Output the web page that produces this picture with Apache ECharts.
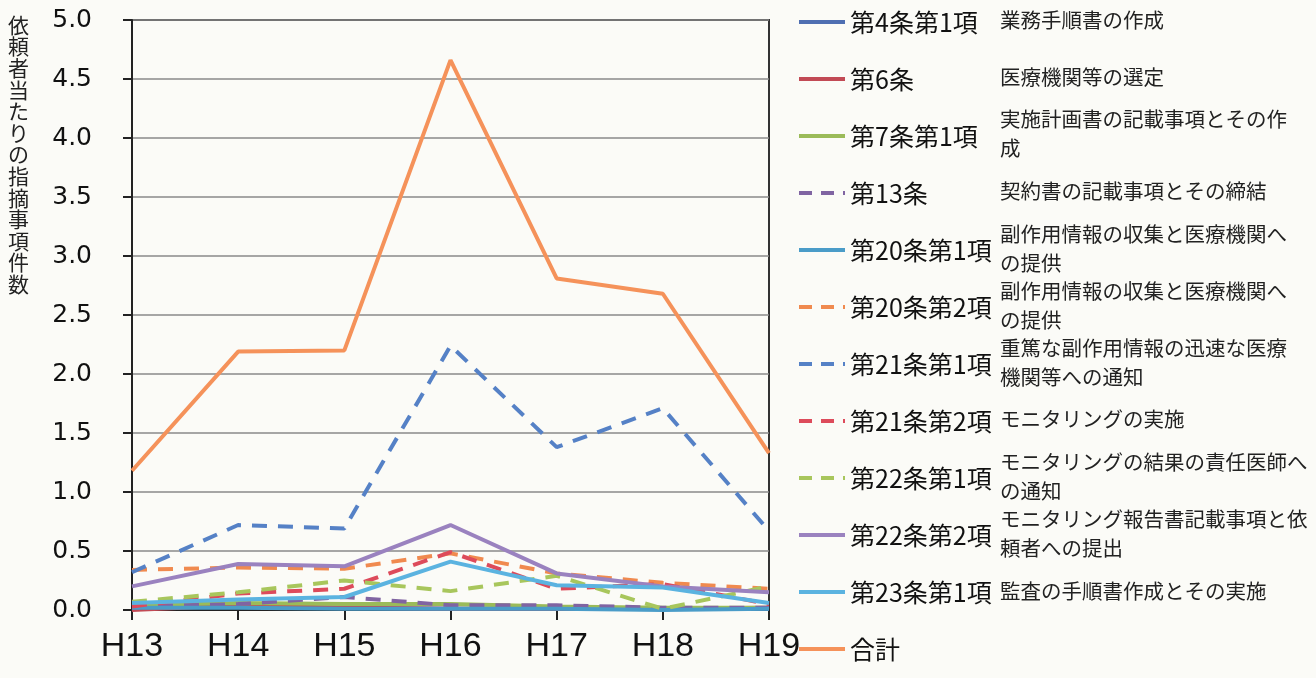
<!DOCTYPE html>
<html>
<head>
<meta charset="utf-8">
<script src="https://cdn.jsdelivr.net/npm/echarts@6/dist/echarts.min.js"></script>
<style>
  html, body { margin: 0; padding: 0; background: #fbfbf7; }
  #chart { width: 1316px; height: 678px; }
</style>
</head>
<body>
<div id="chart"></div>
<script>
// 年度
const years = ["H13", "H14", "H15", "H16", "H17", "H18", "H19"];

// 条項名と内容
const articles = [
  "第4条第1項", "第6条", "第7条第1項", "第13条", "第20条第1項", "第20条第2項",
  "第21条第1項", "第21条第2項", "第22条第1項", "第22条第2項", "第23条第1項", "合計"
];
const descriptions = [
  "業務手順書の作成",
  "医療機関等の選定",
  "実施計画書の記載事項とその作\n成",
  "契約書の記載事項とその締結",
  "副作用情報の収集と医療機関へ\nの提供",
  "副作用情報の収集と医療機関へ\nの提供",
  "重篤な副作用情報の迅速な医療\n機関等への通知",
  "モニタリングの実施",
  "モニタリングの結果の責任医師へ\nの通知",
  "モニタリング報告書記載事項と依\n頼者への提出",
  "監査の手順書作成とその実施",
  ""
];

// 依頼者当たりの指摘事項件数
const art4_1 = [0.02, 0.03, 0.02, 0.01, 0.01, 0.01, 0.01];
const art6 = [0.00, 0.04, 0.02, 0.01, 0.01, 0.01, 0.02];
const art7_1 = [0.04, 0.06, 0.05, 0.05, 0.03, 0.02, 0.02];
const art13 = [0.03, 0.05, 0.11, 0.04, 0.04, 0.02, 0.02];
const art20_1 = [0.02, 0.02, 0.01, 0.01, 0.01, 0.00, 0.01];
const art20_2 = [0.34, 0.36, 0.35, 0.48, 0.31, 0.23, 0.18];
const art21_1 = [0.32, 0.72, 0.69, 2.24, 1.38, 1.71, 0.67];
const art21_2 = [0.03, 0.14, 0.18, 0.49, 0.18, 0.22, 0.05];
const art22_1 = [0.07, 0.15, 0.25, 0.16, 0.29, 0.01, 0.20];
const art22_2 = [0.20, 0.39, 0.37, 0.72, 0.31, 0.20, 0.15];
const art23_1 = [0.06, 0.09, 0.11, 0.41, 0.21, 0.19, 0.06];
const total = [1.18, 2.19, 2.20, 4.66, 2.81, 2.68, 1.33];

const yTicks = [0, 5, 0.5]; // min, max, interval

const seriesData = [art4_1, art6, art7_1, art13, art20_1, art20_2,
  art21_1, art21_2, art22_1, art22_2, art23_1, total];
const colors = ["#4f6fb2", "#c24a55", "#9bbb59", "#8064a2", "#4a9cc8", "#f08a4f",
  "#5581c6", "#dd4b5b", "#a8c65c", "#9a82bf", "#5bb3e0", "#f5925a"];
const dashed = [false, false, false, true, false, true, true, true, true, false, false, false];

const chart = echarts.init(document.getElementById("chart"));

const legendTop = 7;
const legendStep = 57.1;

chart.setOption({
  backgroundColor: "#fbfbf7",
  animation: false,
  grid: {
    left: 132, right: 547, top: 20, bottom: 68,
    show: true, borderColor: "#333", borderWidth: 2
  },
  xAxis: {
    type: "category",
    data: years,
    boundaryGap: false,
    axisLine: { lineStyle: { color: "#222", width: 2 } },
    axisTick: { show: true, length: 10, lineStyle: { color: "#222", width: 2 } },
    axisLabel: {
      color: "#111", fontSize: 34, margin: 20,
      fontFamily: "Liberation Sans Narrow, Arial Narrow, sans-serif"
    },
    splitLine: { show: false }
  },
  yAxis: {
    type: "value",
    min: yTicks[0], max: yTicks[1], interval: yTicks[2],
    axisLine: { show: true, lineStyle: { color: "#222", width: 2 } },
    axisTick: { show: true, length: 9, lineStyle: { color: "#222", width: 2 } },
    axisLabel: {
      color: "#111", fontSize: 25, margin: 40,
      fontFamily: "DejaVu Sans, sans-serif",
      formatter: (v) => v.toFixed(1)
    },
    splitLine: { lineStyle: { color: "#8a8a8a", width: 1.5 } }
  },
  legend: {
    orient: "vertical",
    left: 797, top: legendTop,
    padding: 0,
    itemWidth: 46, itemHeight: 14,
    itemGap: 27,
    selectedMode: false,
    textStyle: {
      color: "#111", fontSize: 25, lineHeight: 30,
      fontFamily: "Liberation Sans Narrow, Noto Sans CJK JP, sans-serif"
    },
    data: articles.map((name, i) => ({
      name: name,
      itemStyle: { opacity: 0 },
      lineStyle: {
        color: colors[i], width: 4, opacity: 1,
        type: dashed[i] ? [13, 9] : "solid"
      }
    }))
  },
  graphic: [
    {
      type: "text", left: 8, top: 14,
      style: {
        text: "依頼者当たりの指摘事項件数".split("").join("\n"),
        fontSize: 21, lineHeight: 21.6, fill: "#222",
        fontFamily: "Noto Sans CJK JP, sans-serif"
      }
    }
  ].concat(descriptions.map((d, i) => ({
    type: "text",
    x: 1000, y: legendTop + 13 + i * legendStep,
    style: {
      text: d, fontSize: 20.5, lineHeight: 29, fill: "#222",
      verticalAlign: "middle",
      fontFamily: "Noto Sans CJK JP, sans-serif"
    }
  }))),
  series: articles.map((name, i) => ({
    name: name,
    type: "line",
    data: seriesData[i],
    symbol: "none",
    z: i === 11 ? 3 : 2,
    itemStyle: { color: colors[i] },
    lineStyle: {
      color: colors[i], width: 4,
      type: dashed[i] ? [15, 11] : "solid"
    }
  }))
});
</script>
</body>
</html>
